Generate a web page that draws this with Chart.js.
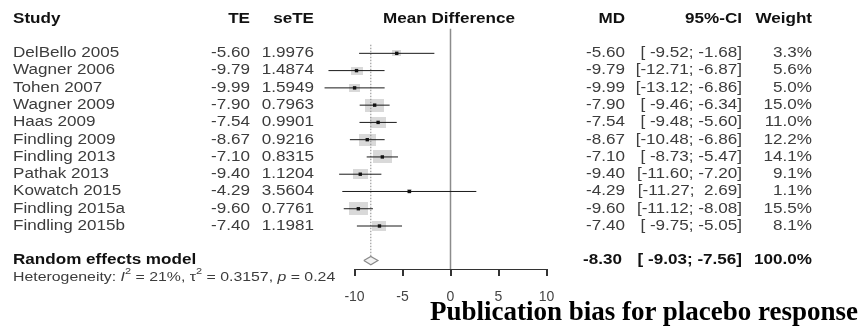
<!DOCTYPE html>
<html>
<head>
<meta charset="utf-8">
<script src="https://cdn.jsdelivr.net/npm/chart.js@4.4.1/dist/chart.umd.min.js"></script>
<style>
  html, body { margin: 0; padding: 0; background: #fff; overflow: hidden; }
  #c { position: absolute; left: 0; top: 0; }
  #caption {
    position: absolute; left: 430px; top: 298px;
    font: bold 27px "Liberation Serif", "Times New Roman", serif;
    line-height: 27px; color: #000; white-space: nowrap;
  }
</style>
</head>
<body>
<canvas id="c" width="863" height="336"></canvas>
<div id="caption">Publication bias for placebo response</div>
<script>
// study data
const studies = ["DelBello 2005", "Wagner 2006", "Tohen 2007", "Wagner 2009", "Haas 2009",
  "Findling 2009", "Findling 2013", "Pathak 2013", "Kowatch 2015", "Findling 2015a", "Findling 2015b"];
const te = [-5.60, -9.79, -9.99, -7.90, -7.54, -8.67, -7.10, -9.40, -4.29, -9.60, -7.40];
const seTE = ["1.9976", "1.4874", "1.5949", "0.7963", "0.9901", "0.9216", "0.8315", "1.1204", "3.5604", "0.7761", "1.1981"];
const ciLower = [-9.52, -12.71, -13.12, -9.46, -9.48, -10.48, -8.73, -11.60, -11.27, -11.12, -9.75];
const ciUpper = [-1.68, -6.87, -6.86, -6.34, -5.60, -6.86, -5.47, -7.20, 2.69, -8.08, -5.05];
const weights = [3.3, 5.6, 5.0, 15.0, 11.0, 12.2, 14.1, 9.1, 1.1, 15.5, 8.1];

// random effects summary
const pooled = [-8.30, -9.03, -7.56]; // estimate, lower, upper
const heterogeneity = { i2: "21%", tau2: "0.3157", p: "0.24" };

const xTicks = [-10, -5, 0, 5, 10];

const summaryRow = studies.length + 1;
const rows = studies.map((s, i) => i);

// text look
const SX = 1.22;
const FONT = '"Liberation Sans", Arial, sans-serif';
const GREY_TXT = "#3c3c3c";

function fmt(v) { return v.toFixed(2); }
function pad(s, n) { while (s.length < n) s = " " + s; return s; }
function ciText(l, u) { return "[" + pad(fmt(l), 6) + "; " + pad(fmt(u), 5) + "]"; }

function txt(ctx, s, x, y, align, font, color) {
  ctx.save();
  ctx.font = font;
  ctx.fillStyle = color;
  ctx.textBaseline = "middle";
  ctx.textAlign = "left";
  const w = ctx.measureText(s).width * SX;
  const x0 = align === "right" ? x - w : align === "center" ? x - w / 2 : x;
  ctx.translate(x0, y);
  ctx.scale(SX, 1);
  ctx.fillText(s, 0, 0);
  ctx.restore();
  return w;
}

// grey weight boxes, area proportional to weight
function boxImage(w) {
  const h = Math.max(3, 3.4 * Math.sqrt(w));
  const c = document.createElement("canvas");
  c.width = Math.round(h * 1.45);
  c.height = Math.round(h);
  const g = c.getContext("2d");
  g.fillStyle = "#d9d9d9";
  g.fillRect(0, 0, c.width, c.height);
  return c;
}
const boxes = weights.map(boxImage);

const tablePlugin = {
  id: "forestTable",
  afterDraw(chart) {
    const ctx = chart.ctx;
    const y = chart.scales.y;
    const xs = chart.scales.x;

    // x axis line and tick marks, placed by the x scale
    ctx.save();
    ctx.setLineDash([]);
    ctx.globalAlpha = 1;
    ctx.fillStyle = "#333";
    const ay = Math.round(xs.top);
    const x0 = Math.round(xs.getPixelForValue(xTicks[0]));
    const x1 = Math.round(xs.getPixelForValue(xTicks[xTicks.length - 1]));
    ctx.fillRect(x0, ay, x1 - x0 + 1, 1);
    xTicks.forEach(t => {
      ctx.fillRect(Math.round(xs.getPixelForValue(t)), ay, 1, 7);
    });
    ctx.restore();

    const reg = "14px " + FONT;
    const bold = "bold 14px " + FONT;
    const hy = y.getPixelForValue(-2);
    txt(ctx, "Study", 13, hy, "left", bold, "#111");
    txt(ctx, "TE", 250, hy, "right", bold, "#111");
    txt(ctx, "seTE", 314, hy, "right", bold, "#111");
    txt(ctx, "Mean Difference", 449, hy, "center", bold, "#111");
    txt(ctx, "MD", 625, hy, "right", bold, "#111");
    txt(ctx, "95%-CI", 742, hy, "right", bold, "#111");
    txt(ctx, "Weight", 812, hy, "right", bold, "#111");

    studies.forEach((s, i) => {
      const py = y.getPixelForValue(rows[i]);
      txt(ctx, s, 13, py, "left", reg, GREY_TXT);
      txt(ctx, fmt(te[i]), 250, py, "right", reg, GREY_TXT);
      txt(ctx, seTE[i], 314, py, "right", reg, GREY_TXT);
      txt(ctx, fmt(te[i]), 625, py, "right", reg, GREY_TXT);
      txt(ctx, ciText(ciLower[i], ciUpper[i]), 742, py, "right", reg, GREY_TXT);
      txt(ctx, weights[i].toFixed(1) + "%", 812, py, "right", reg, GREY_TXT);
    });

    const sy = y.getPixelForValue(summaryRow);
    txt(ctx, "Random effects model", 13, sy, "left", bold, "#111");
    txt(ctx, fmt(pooled[0]), 622, sy, "right", bold, "#111");
    txt(ctx, ciText(pooled[1], pooled[2]), 742, sy, "right", bold, "#111");
    txt(ctx, "100.0%", 812, sy, "right", bold, "#111");

    // heterogeneity line
    const ty = y.getPixelForValue(summaryRow + 0.95);
    const f = "13px " + FONT, fi = "italic 13px " + FONT, fs = "9px " + FONT;
    const parts = [
      ["Heterogeneity: ", f, 0], ["I", fi, 0], ["2", fs, -5], [" = " + heterogeneity.i2 + ", ", f, 0],
      ["\u03c4", f, 0], ["2", fs, -5], [" = " + heterogeneity.tau2 + ", ", f, 0],
      ["p", fi, 0], [" = " + heterogeneity.p, f, 0]
    ];
    let x = 13;
    parts.forEach(p => { x += txt(ctx, p[0], x, ty + p[2], "left", p[1], GREY_TXT); });
  }
};

const datasets = [];

// point estimates
datasets.push({
  data: te.map((v, i) => ({ x: v, y: rows[i] })),
  pointStyle: "rect", pointRadius: 2.4, backgroundColor: "#111", borderColor: "#111",
  borderWidth: 0, showLine: false, order: 1, clip: false
});

// confidence intervals
studies.forEach((s, i) => {
  datasets.push({
    data: [{ x: ciLower[i], y: rows[i] }, { x: ciUpper[i], y: rows[i] }],
    showLine: true, borderColor: "#1a1a1a", borderWidth: 1, pointRadius: 0, order: 3, clip: false
  });
});

// pooled diamond
datasets.push({
  data: [
    { x: pooled[1], y: summaryRow }, { x: pooled[0], y: summaryRow - 0.24 },
    { x: pooled[2], y: summaryRow }, { x: pooled[0], y: summaryRow + 0.24 },
    { x: pooled[1], y: summaryRow }
  ],
  showLine: true, fill: "shape", backgroundColor: "#f2f2f2", borderColor: "#8a8a8a",
  borderWidth: 1.2, pointRadius: 0, order: 2, clip: false
});

// pooled estimate dotted line
datasets.push({
  data: [{ x: pooled[0], y: -0.5 }, { x: pooled[0], y: summaryRow - 0.24 }],
  showLine: true, borderColor: "#8a8a8a", borderWidth: 1, borderDash: [1.5, 1.5],
  pointRadius: 0, order: 4, clip: false
});

// no-effect line
datasets.push({
  data: [{ x: 0, y: -1.43 }, { x: 0, y: 12.49 }],
  showLine: true, borderColor: "#8c8c8c", borderWidth: 1.5, pointRadius: 0, order: 6, clip: false
});

// weight boxes (drawn first)
datasets.push({
  data: te.map((v, i) => ({ x: v, y: rows[i] })),
  pointStyle: boxes, pointRadius: 6, showLine: false, order: 10, clip: false
});

new Chart(document.getElementById("c"), {
  type: "scatter",
  data: { datasets },
  options: {
    responsive: false,
    animation: false,
    devicePixelRatio: 1,
    layout: { padding: { left: 354.5, right: 316.5, top: 0, bottom: 0 } },
    plugins: { legend: { display: false }, tooltip: { enabled: false } },
    scales: {
      x: {
        type: "linear", min: -10, max: 10,
        afterBuildTicks: (scale) => { scale.ticks = xTicks.map(v => ({ value: v })); },
        afterFit: (scale) => { scale.height = 67; },
        grid: { display: true, drawOnChartArea: false, drawTicks: true, tickLength: 7, color: "#333", lineWidth: 1, z: 1 },
        border: { display: true, color: "#333", width: 1, z: 1 },
        ticks: { padding: 13, color: "#444", font: { size: 14, family: FONT }, maxRotation: 0 }
      },
      y: {
        type: "linear", reverse: true, min: -2.684, max: 12.49, display: false
      }
    }
  },
  plugins: [tablePlugin]
});
</script>
</body>
</html>
